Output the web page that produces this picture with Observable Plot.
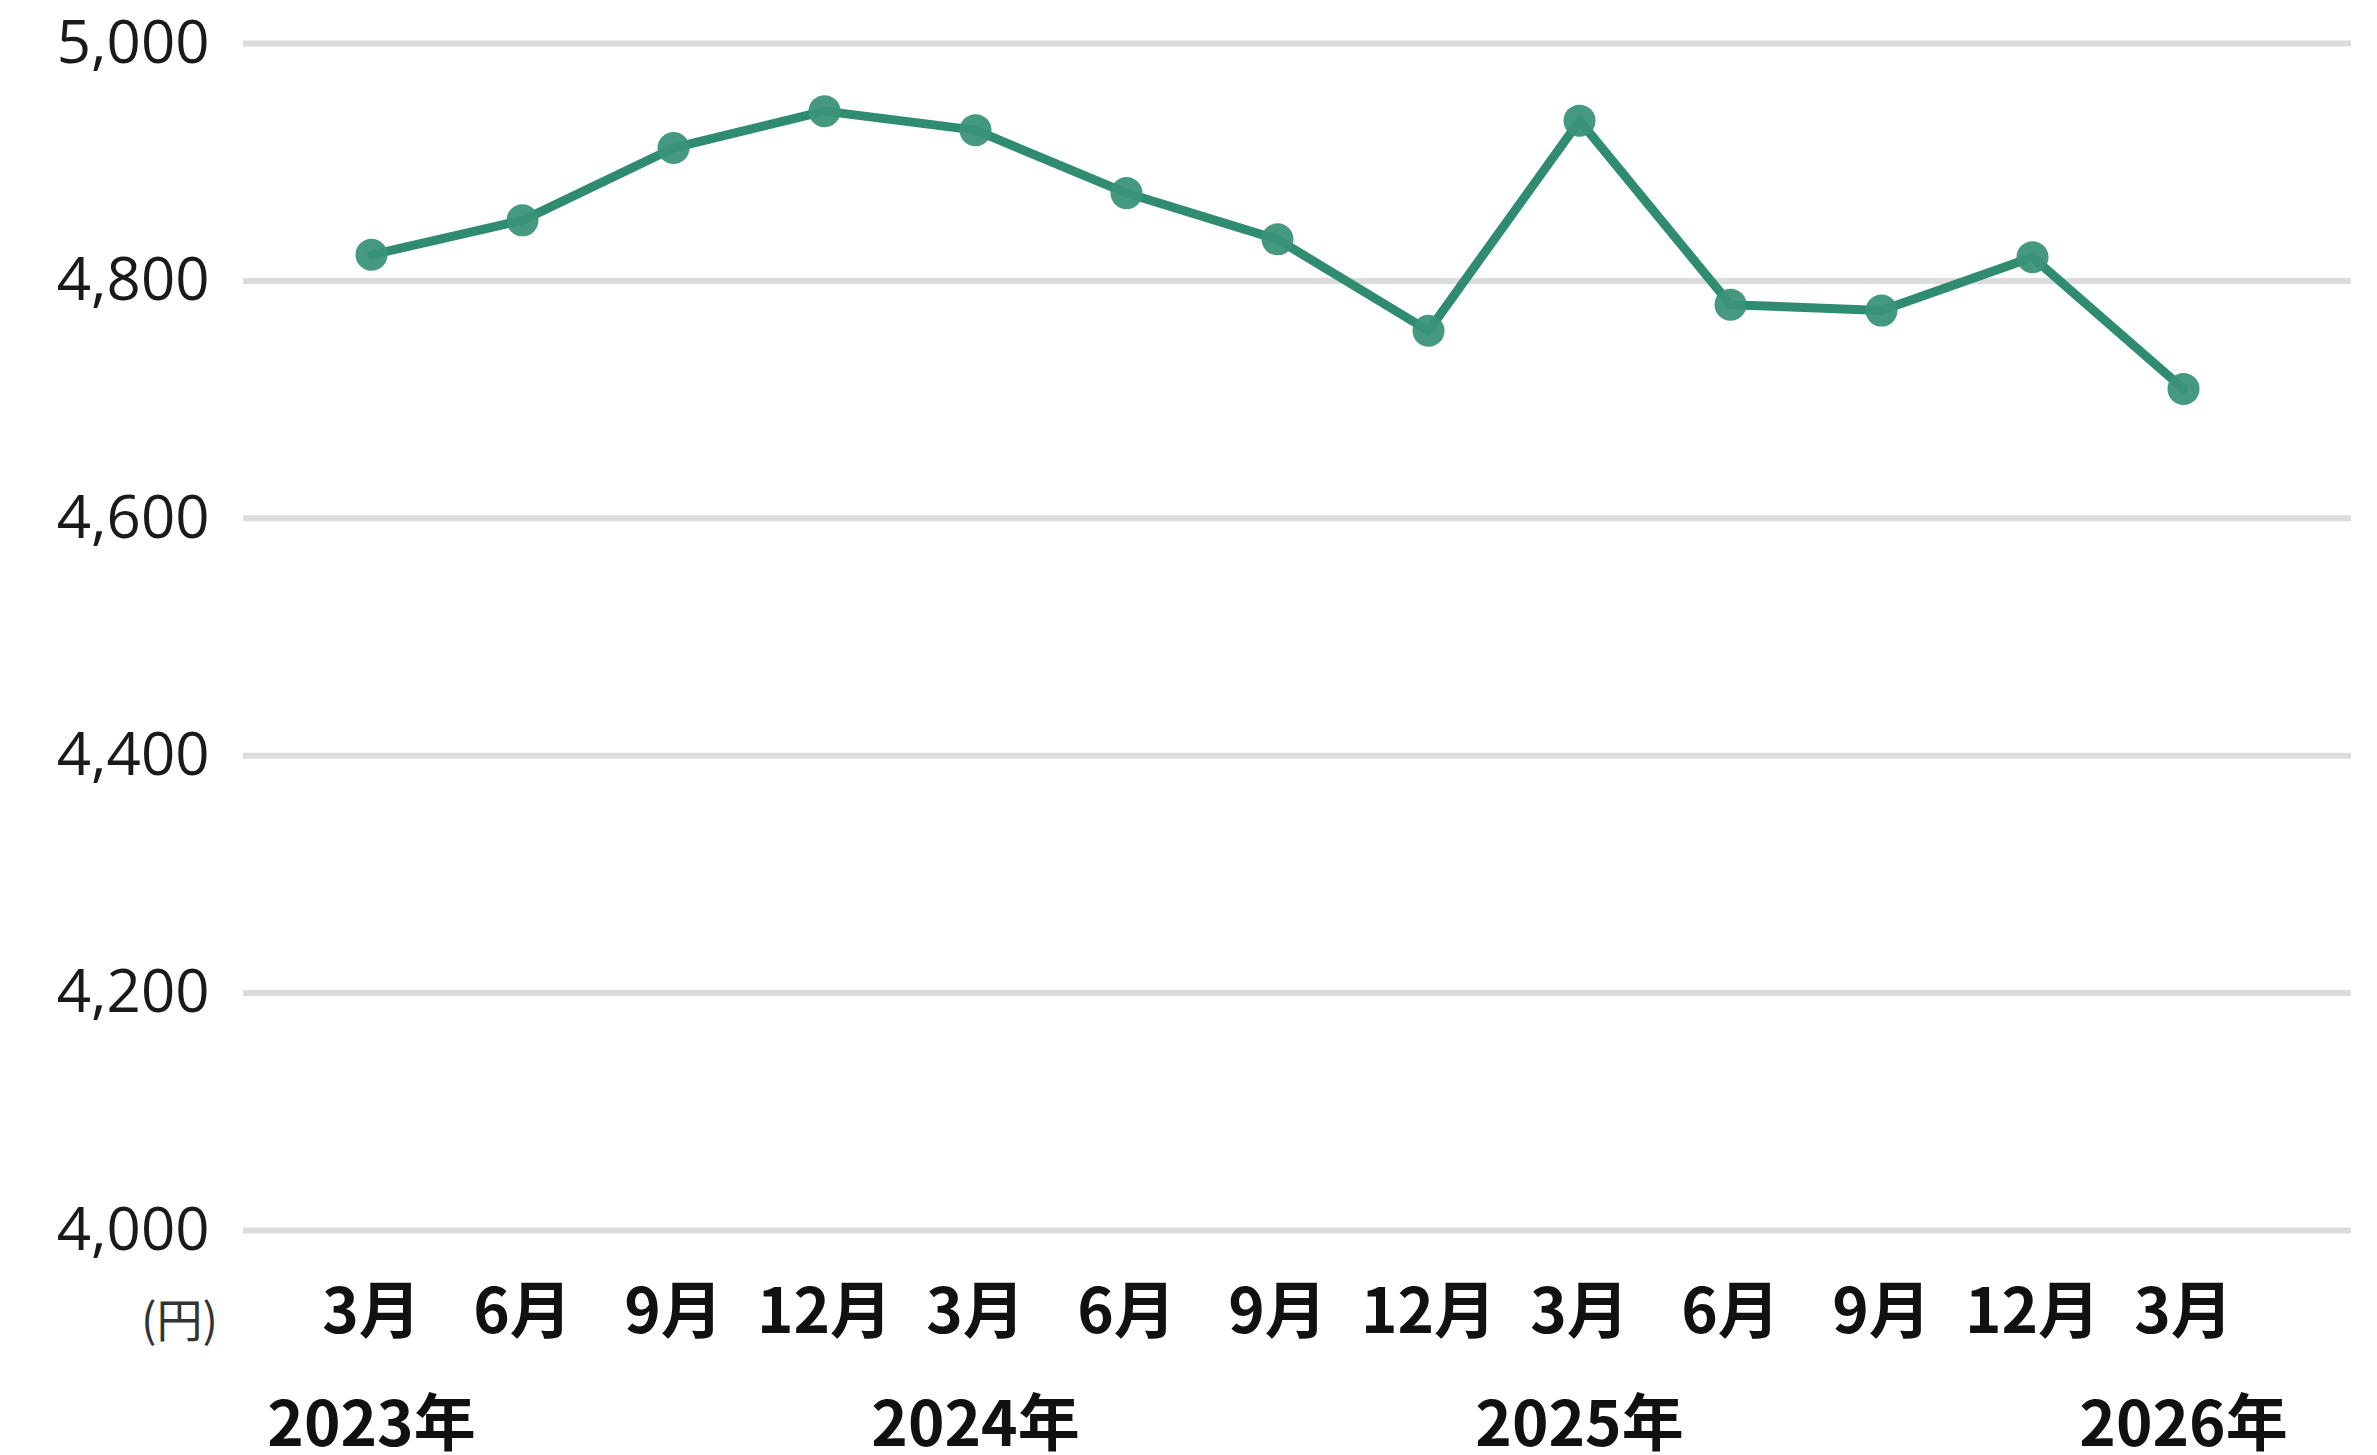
<!DOCTYPE html>
<html>
<head>
<meta charset="utf-8">
<script src="https://cdn.jsdelivr.net/npm/d3@7"></script>
<script src="https://cdn.jsdelivr.net/npm/@observablehq/plot@0.6"></script>
<style>
  html, body { margin: 0; padding: 0; background: #ffffff; }
  #chart svg { display: block; }
</style>
</head>
<body>
<div id="chart"></div>
<script>
// Data
const periods = ["2023-03","2023-06","2023-09","2023-12","2024-03","2024-06","2024-09","2024-12","2025-03","2025-06","2025-09","2025-12","2026-03"];
const monthLabels = ["3月","6月","9月","12月","3月","6月","9月","12月","3月","6月","9月","12月","3月"];
const values = [4822, 4851, 4912, 4943, 4927, 4874, 4835, 4758, 4935, 4780, 4775, 4820, 4709];
const yearAnchors = ["2023-03","2024-03","2025-03","2026-03"];
const yearLabels = ["2023年","2024年","2025年","2026年"];
const yTicks = [4000, 4200, 4400, 4600, 4800, 5000];
const unitLabel = "(円)";

const data = periods.map((p, i) => ({period: p, value: values[i]}));

const lineColor = "#2f8c70";
const dotColor = "#3a9479";
const cjk = "'Noto Sans CJK JP', 'Noto Sans', sans-serif";

const chart = Plot.plot({
  width: 2377,
  height: 1455,
  marginLeft: 243,
  marginRight: 26,
  marginTop: 43,
  marginBottom: 225,
  style: {background: "#ffffff"},
  x: {type: "point", domain: periods, padding: 0, insetLeft: 125, insetRight: 166, axis: null},
  y: {domain: [4000, 5000]},
  marks: [
    Plot.ruleY(yTicks, {stroke: "#dcdcdc", strokeWidth: 6}),
    Plot.axisY(yTicks, {
      tickSize: 0, tickPadding: 34, tickFormat: d3.format(","),
      fontSize: 60, fill: "#1a1a1a", fontFamily: "'Open Sans', sans-serif", label: null
    }),
    Plot.line(data, {x: "period", y: "value", stroke: lineColor, strokeWidth: 9, strokeLinejoin: "round"}),
    Plot.dot(data, {x: "period", y: "value", r: 16, fill: dotColor, fillOpacity: 0.95}),
    Plot.text(periods, {
      x: d => d, text: (d, i) => monthLabels[i], frameAnchor: "bottom", dy: 83,
      lineAnchor: "middle", fontSize: 62, fontWeight: 700, fill: "#111", fontFamily: cjk
    }),
    Plot.text(yearAnchors, {
      x: d => d, text: (d, i) => yearLabels[i], frameAnchor: "bottom", dy: 196,
      lineAnchor: "middle", fontSize: 62, fontWeight: 700, fill: "#111", fontFamily: cjk
    }),
    Plot.text([unitLabel], {
      frameAnchor: "bottom-left", dx: -64, dy: 92, textAnchor: "middle",
      lineAnchor: "middle", fontSize: 46, fill: "#333", fontFamily: cjk
    })
  ]
});
document.getElementById("chart").appendChild(chart);
</script>
</body>
</html>
